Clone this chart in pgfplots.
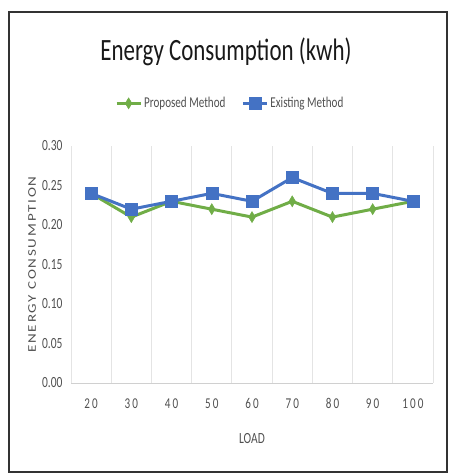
\documentclass[border=0pt]{standalone}
\usepackage{fontspec}
\setmainfont{Carlito}[FakeStretch=0.74]
\newfontfamily\spacedfont{Carlito}[FakeStretch=0.74,LetterSpace=14]
\newfontfamily\ylabfont{Carlito}[LetterSpace=12]
\usepackage{pgfplots}
\pgfplotsset{compat=1.18}
\definecolor{propgreen}{HTML}{70AD47}
\definecolor{exblue}{HTML}{4472C4}
\definecolor{txtgray}{HTML}{505050}
\definecolor{gridgray}{HTML}{E4E4E4}

\begin{document}
\begin{tikzpicture}[x=1pt,y=1pt]
\path[use as bounding box] (0,0) rectangle (451,473);
% outer frame
\draw[line width=1.2pt,black!80] (9,1) rectangle (447,461);
% title
\node[font=\fontsize{31}{33}\selectfont,text=black!90] at (226,421) {Energy Consumption (kwh)};
\begin{axis}[
  at={(71pt,90pt)}, anchor=south west,
  scale only axis, width=362pt, height=237pt,
  xmin=-0.5, xmax=8.5, ymin=0, ymax=0.30,
  xtick={0,...,8},
  xticklabels={20,30,40,50,60,70,80,90,100},
  x tick label style={font=\spacedfont\fontsize{15}{16}\selectfont, text=txtgray, yshift=-12pt},
  ytick={0,0.05,...,0.30},
  yticklabel style={font=\fontsize{15.5}{16}\selectfont, text=txtgray,
    /pgf/number format/fixed, /pgf/number format/fixed zerofill,
    /pgf/number format/precision=2, /pgf/number format/assume math mode=true},
  yticklabel style={xshift=-5pt},
  minor xtick={-0.5,0.5,...,8.5},
  xminorgrids, minor grid style={gridgray, line width=0.8pt},
  major tick length=0pt, minor tick length=0pt,
  axis line style={draw=none},
  xlabel={LOAD},
  xlabel style={font=\fontsize{15.5}{16}\selectfont, text=txtgray, yshift=-18pt},
  ylabel={\scalebox{1}[0.78]{\ylabfont\fontsize{15}{16}\selectfont ENERGY CONSUMPTION}},
  ylabel style={text=txtgray, at={(axis description cs:0,0.5)}, anchor=center, rotate=0, yshift=39pt},
  legend columns=2,
  legend style={draw=none, fill=none, at={(0.44,1.18)}, anchor=center,
    font=\fontsize{15}{16}\selectfont, text=txtgray,
    /tikz/every even column/.append style={column sep=14pt}},
  legend image code/.code={
    \draw[#1, mark repeat=2, mark phase=2] plot coordinates {(0pt,0pt) (12pt,0pt) (24pt,0pt)};
  },
  clip=false,
]
\draw[gridgray!80!gray, line width=0.9pt] (axis cs:-0.5,0) -- (axis cs:8.5,0);
\addplot[propgreen, line width=3pt, mark=diamond*, mark size=5.5pt,
  mark options={solid, xscale=0.8, line width=0.5pt}]
  coordinates {(0,0.24) (1,0.21) (2,0.23) (3,0.22) (4,0.21) (5,0.23) (6,0.21) (7,0.22) (8,0.23)};
\addlegendentry{Proposed Method}
\addplot[exblue, line width=3pt, mark=square*, mark size=6pt,
  mark options={solid, line width=0.5pt}]
  coordinates {(0,0.24) (1,0.22) (2,0.23) (3,0.24) (4,0.23) (5,0.26) (6,0.24) (7,0.24) (8,0.23)};
\addlegendentry{Existing Method}
\end{axis}
\end{tikzpicture}
\end{document}
